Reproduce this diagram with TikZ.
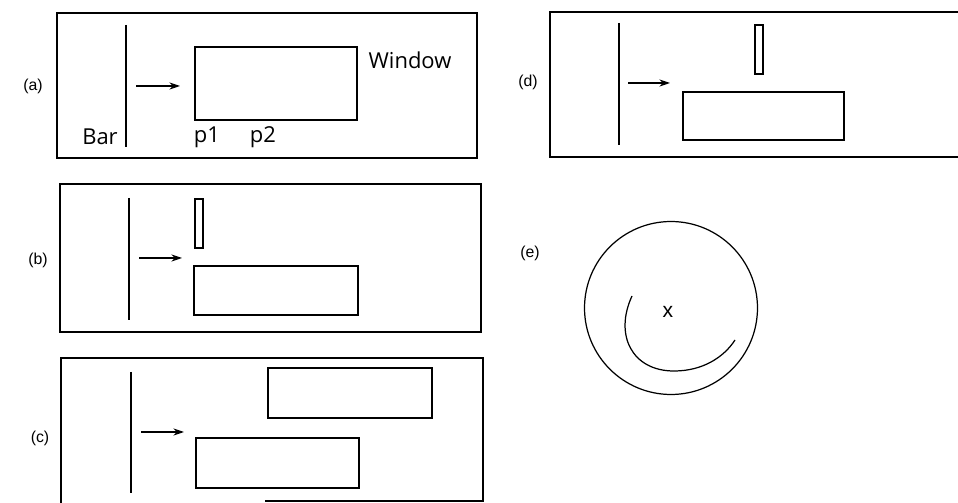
\documentclass[tikz,border=0pt]{standalone}
\usepackage{fontspec}
\setmainfont{Liberation Sans}
\newfontfamily\wordfont{Open Sans}
\usetikzlibrary{arrows.meta}

\tikzset{
  panel/.style={line width=0.8pt},
  winbox/.style={line width=0.7pt},
  barline/.style={line width=0.8pt},
  slide/.style={-{Stealth[length=6pt,width=4pt]}, line width=0.6pt},
  tag/.style={font=\fontsize{9}{10}\selectfont, inner sep=0pt},
  word/.style={font=\wordfont\fontsize{12.5}{14}\selectfont, inner sep=0pt}
}

\begin{document}
\begin{tikzpicture}[x=0.02cm, y=-0.02cm]
\useasboundingbox (0,0) rectangle (958,503);

% (a) window beside the bar
\node[tag] (tagA) at (33,86) {(a)};
\draw[panel] (57,13) rectangle (477,158);
\draw[barline] (126,25) -- (126,147);
\coordinate (fromA) at (136,86);
\coordinate (toA) at (180,86);
\draw[slide] (fromA) -- (toA);
\draw[winbox] (195,47) rectangle (357,120);
\node[word] (win) at (410,60) {Window};
\node[word] (bar) at (100,137) {Bar};
\node[word] (p1) at (207,137) {p1};
\node[word] (p2) at (263,137) {p2};

% (b)
\node[tag] (tagB) at (38,260) {(b)};
\draw[panel] (60,184) rectangle (481,332);
\draw[barline] (129,198) -- (129,320);
\coordinate (fromB) at (139,258);
\coordinate (toB) at (182,258);
\draw[slide] (fromB) -- (toB);
\draw[winbox] (195,199) rectangle (203,248);
\draw[winbox] (194,266) rectangle (358,315);

% (c)
\node[tag] (tagC) at (40,438) {(c)};
\draw[panel] (61,503) -- (61,358) -- (483,358) -- (483,501) -- (265,501);
\draw[barline] (131,372) -- (131,493);
\coordinate (fromC) at (141,432);
\coordinate (toC) at (184,432);
\draw[slide] (fromC) -- (toC);
\draw[winbox] (268,368) rectangle (432,418);
\draw[winbox] (196,438) rectangle (359,488);

% (d)
\node[tag] (tagD) at (528,82) {(d)};
\draw[panel] (958,12) -- (550,12) -- (550,157) -- (958,157);
\draw[barline] (619,23) -- (619,145);
\coordinate (fromD) at (628,83);
\coordinate (toD) at (670,83);
\draw[slide] (fromD) -- (toD);
\draw[winbox] (755,25) rectangle (763,74);
\draw[winbox] (683,92) rectangle (844,140);

% (e)
\node[tag] (tagE) at (530,253) {(e)};
\coordinate (hub) at (671,308);
\draw[winbox] (hub) circle[radius=1.73cm];
\node[font=\fontsize{12}{14}\selectfont, inner sep=0pt] (cross) at (668,312) {x};
\draw[winbox] (632,296) .. controls (614,335) and (632,371) .. (674,371)
  .. controls (703,371) and (724,357) .. (735,340);
\end{tikzpicture}
\end{document}
